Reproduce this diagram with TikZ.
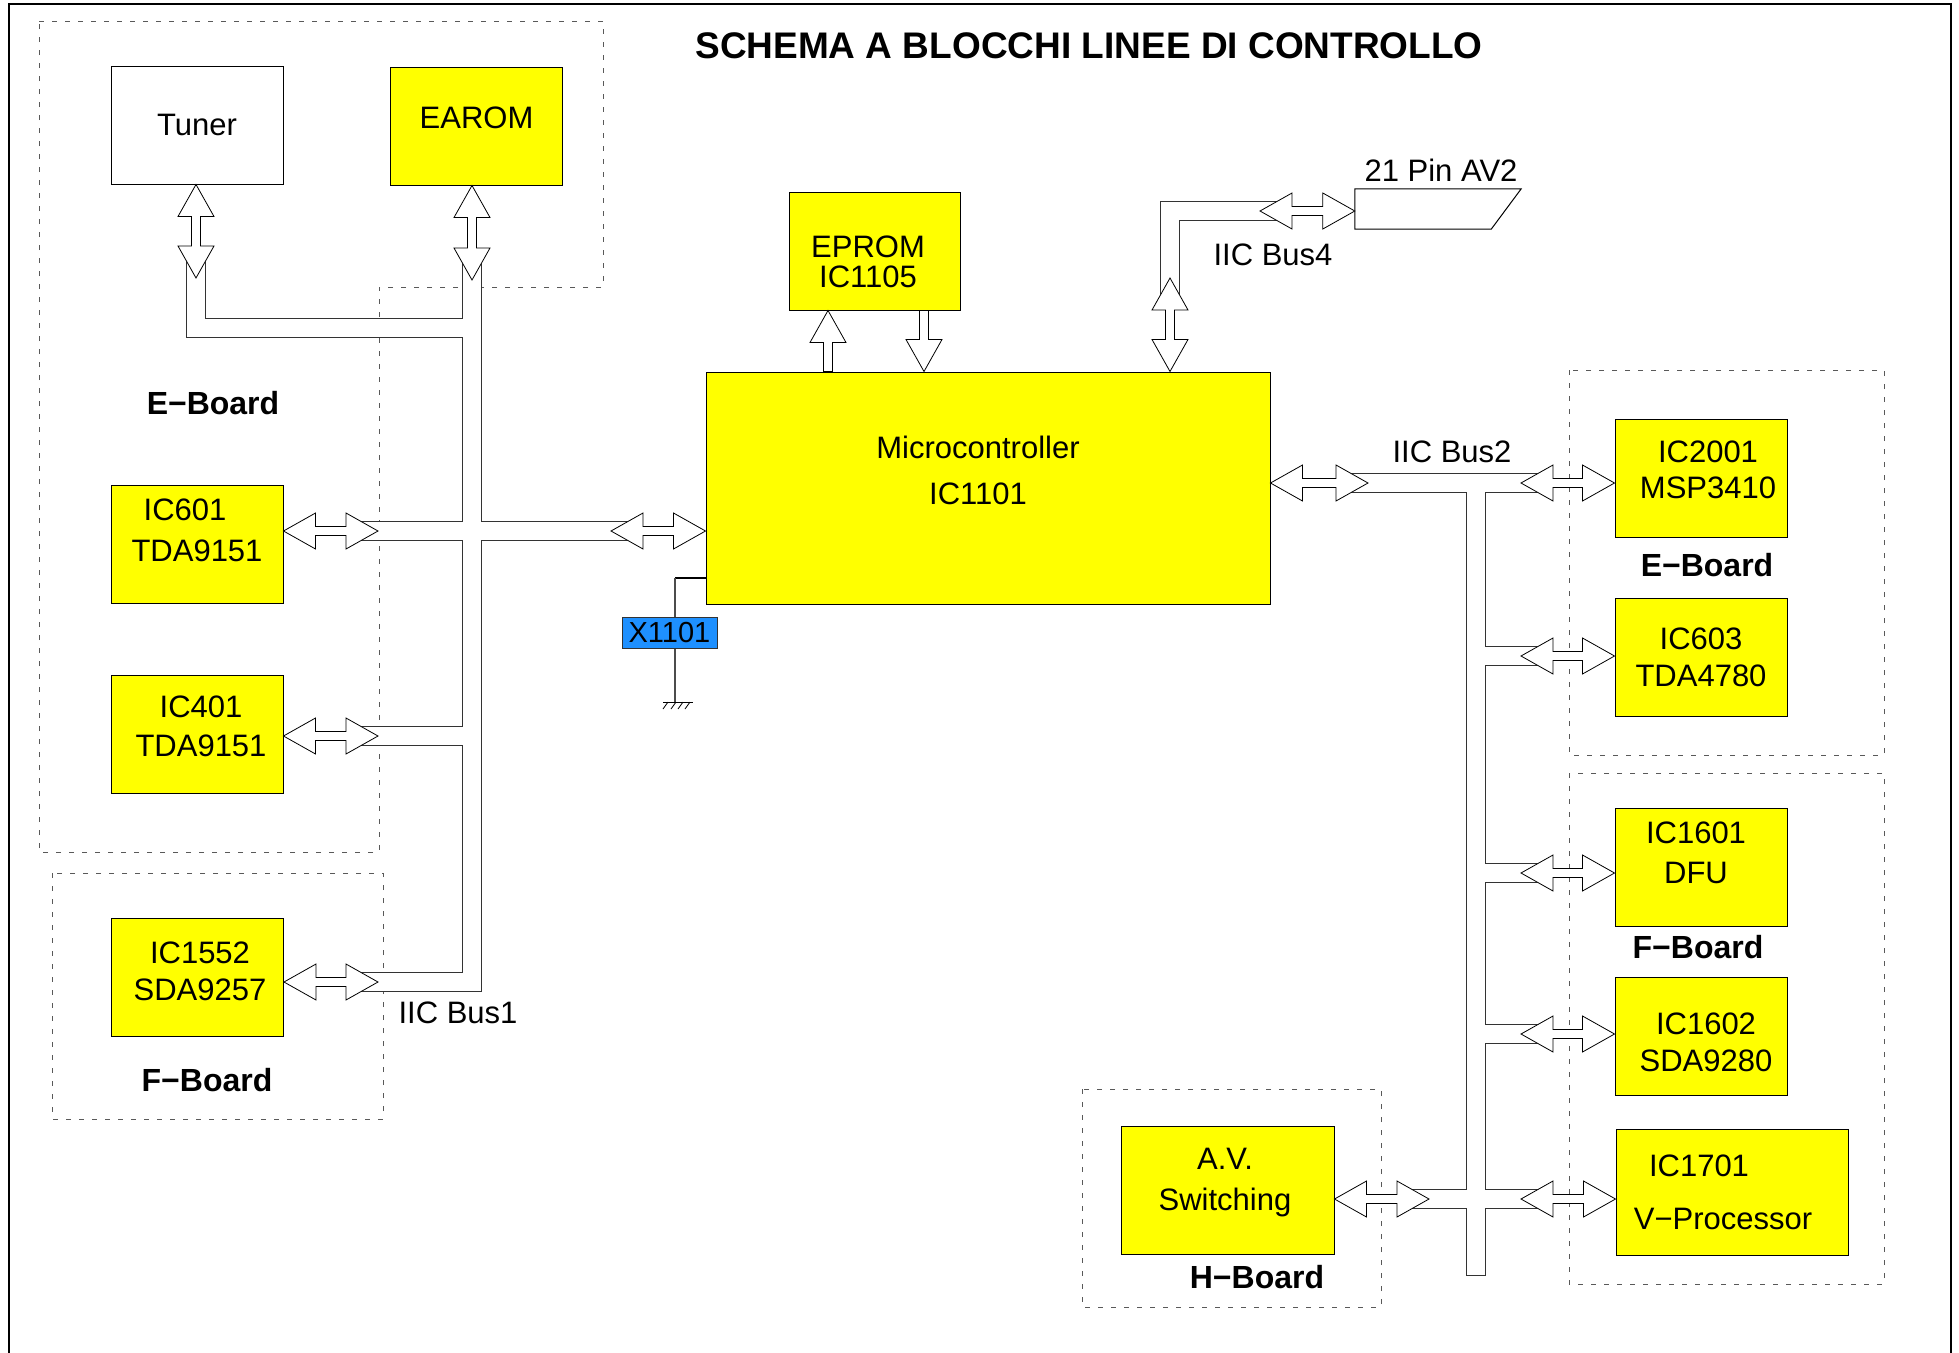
\documentclass[tikz,border=0pt]{standalone}
\usepackage{fontspec}
\setmainfont{Liberation Sans}
\usetikzlibrary{calc, positioning}
\definecolor{xblue}{RGB}{30,144,255}
\definecolor{chipyellow}{RGB}{255,255,0}

\begin{document}
\begin{tikzpicture}[% styles used in image code
         x = 1pt, y = -1pt,
 txt/.style = {font=\fontsize{31}{37}\selectfont, align=center, inner sep=0pt},
 brd/.style = {font=\fontsize{32}{38}\selectfont\bfseries, inner sep=0pt},
chip/.style = {draw, fill=chipyellow, line width=1pt, inner sep=0pt,
               minimum width=172pt, minimum height=118pt, txt},
every label/.style = {txt},
board/.style = {draw=black!65, line width=0.9pt, dash pattern=on 5pt off 8pt},
 bus/.style = {draw=white, line width=18pt, line join=miter,
               preaction={draw=black!80, line width=20pt, line join=miter}},
% hollow block arrow, heads at both ends
dblarrow/.style = {draw, fill=white, line width=0.8pt, line join=miter,
   to path={
   -- ($(\tikztostart)!32pt!(\tikztotarget)!18pt!90:(\tikztotarget)$)
   -- ($(\tikztostart)!32pt!(\tikztotarget)!4.5pt!90:(\tikztotarget)$)
   -- ($(\tikztotarget)!32pt!(\tikztostart)!4.5pt!-90:(\tikztostart)$)
   -- ($(\tikztotarget)!32pt!(\tikztostart)!18pt!-90:(\tikztostart)$)
   -- (\tikztotarget)
   -- ($(\tikztotarget)!32pt!(\tikztostart)!18pt!90:(\tikztostart)$)
   -- ($(\tikztotarget)!32pt!(\tikztostart)!4.5pt!90:(\tikztostart)$)
   -- ($(\tikztostart)!32pt!(\tikztotarget)!4.5pt!-90:(\tikztotarget)$)
   -- ($(\tikztostart)!32pt!(\tikztotarget)!18pt!-90:(\tikztotarget)$)
   -- cycle}},
% hollow block arrow, head at target only
sglarrow/.style = {draw, fill=white, line width=0.8pt, line join=miter,
   to path={
      ($(\tikztostart)!4.5pt!90:(\tikztotarget)$)
   -- ($(\tikztotarget)!32pt!(\tikztostart)!4.5pt!-90:(\tikztostart)$)
   -- ($(\tikztotarget)!32pt!(\tikztostart)!18pt!-90:(\tikztostart)$)
   -- (\tikztotarget)
   -- ($(\tikztotarget)!32pt!(\tikztostart)!18pt!90:(\tikztostart)$)
   -- ($(\tikztotarget)!32pt!(\tikztostart)!4.5pt!90:(\tikztostart)$)
   -- ($(\tikztostart)!4.5pt!-90:(\tikztotarget)$)
   -- cycle}}
                    ]
    \useasboundingbox (0,0) rectangle (1959,1352);
    % outer frame
    \draw[line width=2.5pt] (9,4) rectangle (1951,1420);

    % board areas
    \draw[board] (39,21) -- (603,21) -- (603,287) -- (379,287)
                 -- (379,852) -- (39,852) -- cycle;
    \draw[board] (52,873)   rectangle (383,1119);
    \draw[board] (1569,370) rectangle (1884,755);
    \draw[board] (1569,773) rectangle (1884,1284);
    \draw[board] (1082,1089) rectangle (1381,1307);

    % blocks
    \node (tuner)  at (197,125)    [chip, fill=white] {Tuner};
    \node (earom)  at (476.5,126)  [chip, label={[yshift=8pt]center:EAROM}] {};
    \node (ic601)  at (197,544.5)  [chip, label={[yshift=14pt]center:{IC601\hspace*{24pt}\\[4pt]TDA9151}}] {};
    \node (ic401)  at (197,734)    [chip, label={[xshift=4pt,yshift=7.5pt]center:{IC401\\[2pt]TDA9151}}] {};
    \node (ic1552) at (197.5,977.5) [chip, label={[xshift=2.5pt,yshift=6pt]center:{IC1552\\SDA9257}}] {};
    \node (eprom)  at (874.5,251)  [chip, minimum width=171pt,
                                    label={[xshift=-6.5pt,yshift=-11pt]center:{EPROM\\[-7pt]IC1105}}] {};
    \node (micro)  at (988,488)    [chip, minimum width=564pt, minimum height=232pt,
                                    label={[xshift=-10pt,yshift=18pt]center:{Microcontroller\\[9pt]IC1101}}] {};
    \node (ic2001) at (1701,478)   [chip, label={[xshift=7pt,yshift=8pt]center:{IC2001\\[-1pt]MSP3410}}] {};
    \node (ic603)  at (1701,657)   [chip, label={center:{IC603\\TDA4780}}] {};
    \node (ic1601) at (1701,867)   [chip, label={[xshift=-5pt,yshift=14pt]center:{IC1601\\[3pt]DFU}}] {};
    \node (ic1602) at (1701,1036)  [chip, label={[xshift=5pt,yshift=-6.5pt]center:{IC1602\\SDA9280}}] {};
    \node (ic1701) at (1732,1192)  [chip, minimum width=232pt, minimum height=126pt,
                                    label={[xshift=-9pt]center:{IC1701\hspace*{48pt}\\[16pt]V−Processor}}] {};
    \node (avsw)   at (1227.5,1190) [chip, minimum width=213pt, minimum height=128pt,
                                    label={[xshift=-2.5pt,yshift=7.5pt]center:{A.V.\\[4pt]Switching}}] {};
    \node (pin21)  at (1438,209)   [minimum width=166pt, minimum height=40pt, inner sep=0pt] {};
    \draw[line width=1pt] (pin21.north west) -- (pin21.north east)
          -- ([xshift=-30pt]pin21.south east) -- (pin21.south west) -- cycle;

    % crystal and ground
    \coordinate (xtal) at (675,578);
    \coordinate (gnd)  at (675,702);
    \draw[line width=2.2pt] (micro.west |- xtal) -- (xtal);
    \draw[black!70, line width=1.2pt] (xtal) -- (gnd);
    \draw[line width=1pt] ([xshift=-12pt]gnd) -- ([xshift=18pt]gnd);
    \foreach \dx in {-7,1,8,15}
        \draw[line width=0.8pt] ([xshift=\dx pt]gnd) -- ([xshift=\dx pt-5pt, yshift=-7pt]gnd);
    \node (x1101) at (669.5,632.5) [draw=black!80, fill=xblue, inner sep=0pt,
          minimum width=95pt, minimum height=31pt, font=\fontsize{29}{34}\selectfont] {X1101};

    % bus ends
    \coordinate (tunB)  at (196,278);
    \coordinate (earB)  at (472,280);
    \coordinate (b1top) at (472,328);
    \coordinate (b601)  at (378,531);
    \coordinate (bmic)  at (611,531);
    \coordinate (b401)  at (378,736);
    \coordinate (b1552) at (378,982);
    \coordinate (b4v)   at (1170,278);
    \coordinate (b4h)   at (1260,211);
    \coordinate (b2m)   at (1368,483);
    \coordinate (b2001) at (1521,483);
    \coordinate (b603)  at (1521,656);
    \coordinate (b1601) at (1521,873);
    \coordinate (b1602) at (1521,1034);
    \coordinate (b1701) at (1521,1199);
    \coordinate (bav)   at (1429,1199);
    \coordinate (b2bot) at (1476,1275);
    \coordinate (eprA)  at (828,340);
    \coordinate (eprB)  at (924,340);

    % IIC Bus1
    \draw[bus] ([yshift=24pt]tunB) -- (tunB |- b1top) -- (b1top)
               ([yshift=24pt]earB) -- (earB |- b1552) -- ([xshift=-24pt]b1552)
               ([xshift=-24pt]b601) -- ([xshift=24pt]bmic)
               ([xshift=-24pt]b401) -- (earB |- b401);
    % IIC Bus4
    \draw[bus] ([yshift=-24pt]b4v) -- (b4v |- b4h) -- ([xshift=24pt]b4h);
    % IIC Bus2
    \draw[bus] ([xshift=-24pt]b2m) -- ([xshift=24pt]b2001)
               (b2bot |- b2m) -- (b2bot)
               (b2bot |- b603)  -- ([xshift=24pt]b603)
               (b2bot |- b1601) -- ([xshift=24pt]b1601)
               (b2bot |- b1602) -- ([xshift=24pt]b1602)
               ([xshift=-24pt]bav) -- ([xshift=24pt]b1701);
    \draw[black!80, line width=1pt] ([xshift=-10pt]b2bot) -- ([xshift=10pt]b2bot);

    % arrows
    \draw[dblarrow] (tuner.south -| tunB) to (tunB);
    \draw[dblarrow] (earom.south -| earB) to (earB);
    \draw[dblarrow] (ic601.east |- b601) to (b601);
    \draw[dblarrow] (bmic) to (micro.west |- bmic);
    \draw[dblarrow] (ic401.east |- b401) to (b401);
    \draw[dblarrow] (ic1552.east |- b1552) to (b1552);
    \draw[sglarrow] (micro.north -| eprA) to (eprom.south -| eprA);
    \draw[sglarrow] (eprom.south -| eprB) to (micro.north -| eprB);
    \draw[dblarrow] (micro.north -| b4v) to (b4v);
    \draw[dblarrow] (b4h) to (pin21.west |- b4h);
    \draw[dblarrow] (micro.east |- b2m) to (b2m);
    \draw[dblarrow] (b2001) to (ic2001.west |- b2001);
    \draw[dblarrow] (b603)  to (ic603.west |- b603);
    \draw[dblarrow] (b1601) to (ic1601.west |- b1601);
    \draw[dblarrow] (b1602) to (ic1602.west |- b1602);
    \draw[dblarrow] (b1701) to (ic1701.west |- b1701);
    \draw[dblarrow] (avsw.east |- bav) to (bav);

    % texts
    \node[txt] (title) at (1089,46) {\fontsize{37}{44}\selectfont\bfseries SCHEMA A BLOCCHI LINEE DI CONTROLLO};
    \node[brd] (eb1) at (213,403)   {E−Board};
    \node[brd] (fb1) at (207,1080)  {F−Board};
    \node[brd] (eb2) at (1707,565)  {E−Board};
    \node[brd] (fb2) at (1698,947)  {F−Board};
    \node[brd] (hb)  at (1257,1277) {H−Board};
    \node[txt] (bus1) at (458,1013) {IIC Bus1};
    \node[txt] (bus2) at (1452,452) {IIC Bus2};
    \node[txt] (bus4) at (1273,255) {IIC Bus4};
    \node[txt] (av2)  at (1441,170) {21 Pin AV2};
\end{tikzpicture}
\end{document}
